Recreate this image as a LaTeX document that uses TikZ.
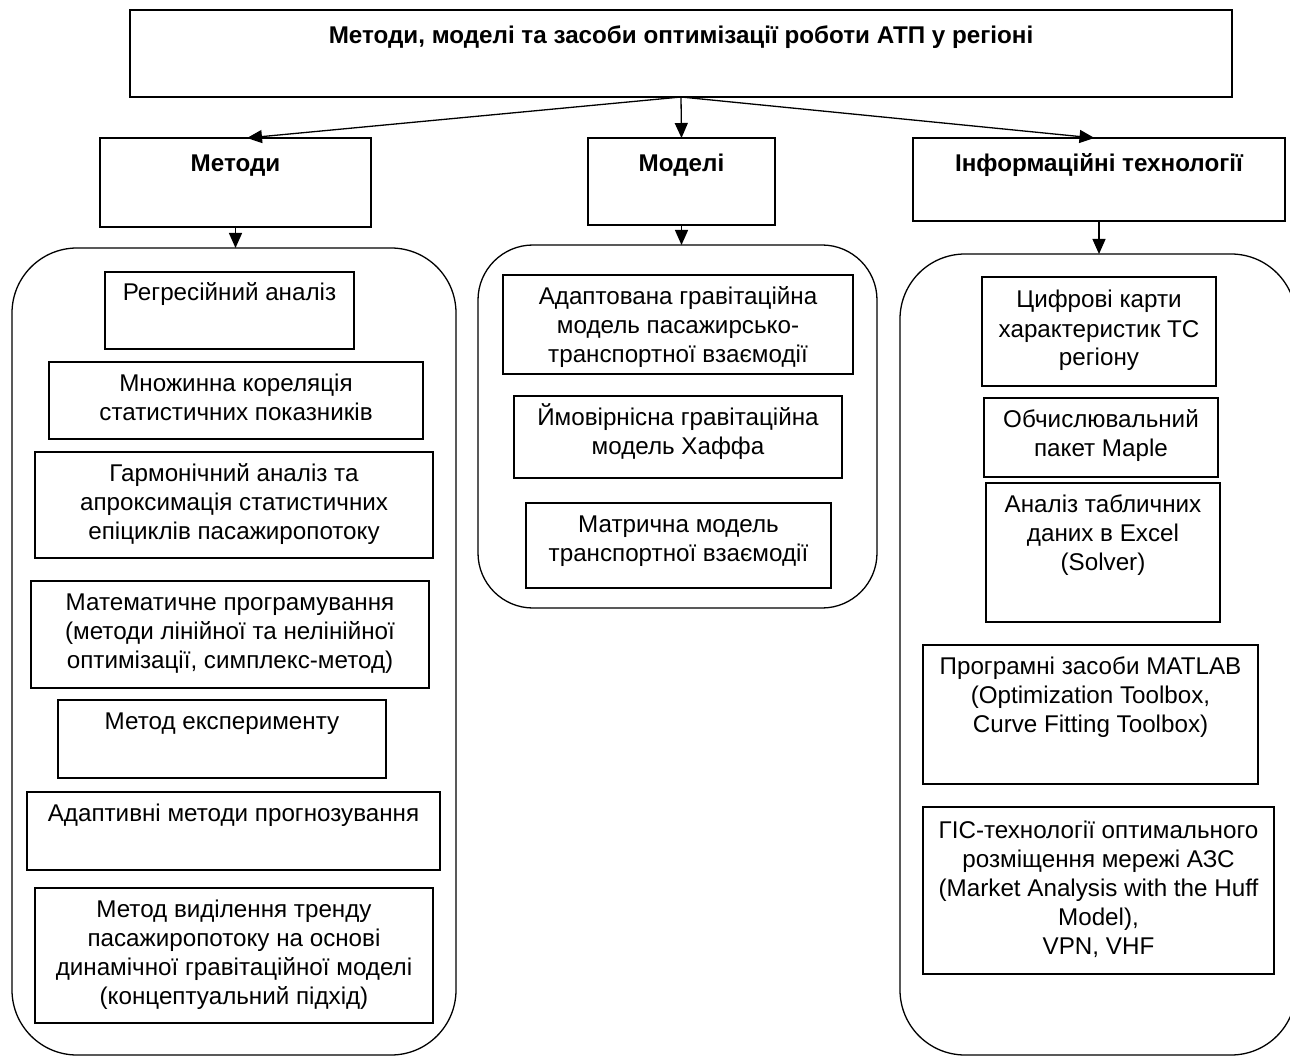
\documentclass[tikz,border=0pt]{standalone}
\usepackage{fontspec}
\setmainfont{Liberation Sans}
\usetikzlibrary{arrows.meta}
\newcommand\bx[7][29]{%
  \node[boxst, anchor=north west] (#2) at (#3,#4)
    {\parbox[c][\dimexpr#6pt-#4pt\relax][t]{\dimexpr#5pt-#3pt\relax}{\centering\rule{0pt}{#1pt}#7}};}
\newcommand\ct[6]{%
  \node[contst, rounded corners=#6pt, anchor=north west,
        minimum width={(#4-#2)*1pt}, minimum height={(#5-#3)*1pt}] (#1) at (#2,#3) {};}
\tikzset{
  boxst/.style={draw, line width=1.6pt, inner sep=0pt, outer sep=0pt,
    font=\fontsize{24.2}{29}\selectfont},
  contst/.style={draw, line width=1.3pt, inner sep=0pt, outer sep=0pt},
  arr/.style={line width=1.3pt, -{Triangle[length=15pt,width=13pt]}}
}
\begin{document}
\begin{tikzpicture}[x=1pt,y=-1pt]
\useasboundingbox (0,0) rectangle (1290,1056);
\clip (0,0) rectangle (1290,1056);
% top
\bx[34]{top}{130}{10}{1232}{97}{\bfseries Методи, моделі та засоби оптимізації роботи АТП у регіоні}
% headers
\bx[34]{met}{100}{138}{371}{227}{\bfseries Методи}
\bx[34]{mod}{588}{138}{775}{225}{\bfseries Моделі}
\bx[34]{inf}{913}{138}{1285}{221}{\bfseries Інформаційні технології}
% containers
\ct{c1}{12}{248}{456}{1055}{65}
\ct{c2}{478}{245}{877}{608}{55}
\ct{c3}{900}{254}{1296}{1055}{65}
% arrows
\draw[arr] (top.south) -- ([xshift=11.5pt]met.north);
\draw[arr] (top.south) -- (mod.north);
\draw[arr] (top.south) -- ([xshift=-4.5pt]inf.north);
\draw[arr] (met.south) -- (met.south |- c1.north);
\draw[arr] (mod.south) -- (mod.south |- c2.north);
\draw[arr] (inf.south) -- (inf.south |- c3.north);
% left column
\bx{l1}{105}{272}{354}{349}{Регресійний аналіз}
\bx{l2}{49}{362}{423}{439}{Множинна кореляція\\статистичних показників}
\bx{l3}{35}{452}{433}{558}{Гармонічний аналіз та\\апроксимація статистичних\\епіциклів пасажиропотоку}
\bx{l4}{31}{581}{429}{688}{Математичне програмування\\(методи лінійної та нелінійної\\оптимізації, симплекс-метод)}
\bx{l5}{58}{700}{386}{778}{Метод експерименту}
\bx{l6}{27}{792}{440}{870}{Адаптивні методи прогнозування}
\bx{l7}{35}{888}{433}{1023}{Метод виділення тренду\\пасажиропотоку на основі\\динамічної гравітаційної моделі\\(концептуальний підхід)}
% middle column
\bx[30]{m1}{503}{275}{853}{374}{Адаптована гравітаційна\\модель пасажирсько-\\транспортної взаємодії}
\bx{m2}{514}{396}{842}{478}{Ймовірнісна гравітаційна\\модель Хаффа}
\bx{m3}{526}{503}{831}{588}{Матрична модель\\транспортної взаємодії}
% right column
\bx[31]{r1}{982}{277}{1216}{386}{Цифрові карти\\характеристик ТС\\регіону}
\bx{r2}{984}{398}{1218}{477}{Обчислювальний\\пакет Maple}
\bx{r3}{986}{483}{1220}{622}{Аналіз табличних\\даних в Excel\\(Solver)}
\bx{r4}{923}{645}{1258}{784}{Програмні засоби MATLAB\\(Optimization Toolbox,\\Curve Fitting Toolbox)}
\bx[31]{r5}{923}{807}{1274}{974}{ГІС-технології оптимального\\розміщення мережі АЗС\\(Market Analysis with the Huff\\Model),\\VPN, VHF}
\end{tikzpicture}
\end{document}
